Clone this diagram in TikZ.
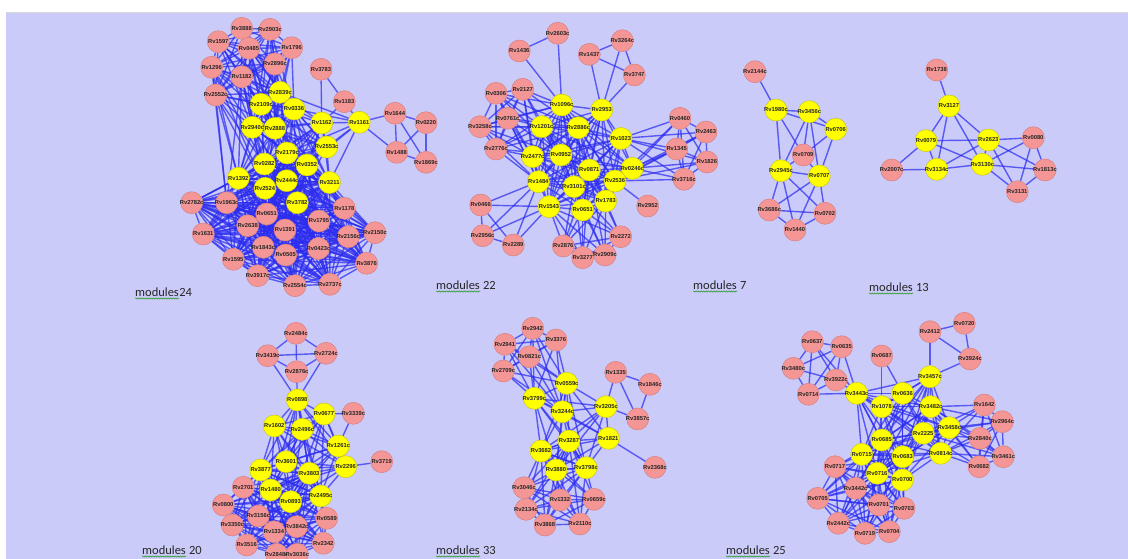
\documentclass[tikz,border=0pt]{standalone}
\usepackage{fontspec}
\setmainfont{Carlito}
\newfontfamily\nodefont{Liberation Sans}
\usetikzlibrary{decorations.pathmorphing}
\definecolor{sheetcol}{RGB}{203,203,250}
\definecolor{linkblue}{RGB}{45,45,240}
\definecolor{pinkfill}{RGB}{244,150,150}
\definecolor{pinkline}{RGB}{215,128,128}
\definecolor{yelfill}{RGB}{255,255,0}
\definecolor{yelline}{RGB}{200,200,20}
\definecolor{squig}{RGB}{60,160,60}
\pgfdeclarelayer{sheet}
\pgfdeclarelayer{links}
\pgfsetlayers{sheet,links,main}
\tikzset{
  gene/.style={circle, minimum size=22pt, inner sep=0pt, line width=0.5pt,
    font=\nodefont\bfseries\fontsize{5.8}{6.5}\selectfont, text=black!85},
  pk/.style={gene, fill=pinkfill, draw=pinkline},
  yw/.style={gene, fill=yelfill, draw=yelline},
  edge/.style={draw=linkblue, line width=1.4pt, opacity=0.72},
  modlbl/.style={font=\fontsize{12.5}{14}\selectfont, text=black!85, inner sep=0pt, anchor=base west},
  squiggle/.style={draw=squig, line width=0.6pt, decorate,
    decoration={snake, amplitude=0.6pt, segment length=2.5pt}}
}
% gene nodes: prefix, number, position
\newcommand\pn[3]{\node[pk] (#1#2) at (#3) {\makebox[0pt]{Rv#2}};}
\newcommand\yn[3]{\node[yw] (#1#2) at (#3) {\makebox[0pt]{Rv#2}};}
% all links inside a group of genes
\newcommand\cliq[1]{\foreach \a [count=\i] in {#1}{\foreach \b [count=\j] in {#1}{\ifnum\j>\i\relax\draw[edge] (\a)--(\b);\fi}}}
% every link between two groups
\newcommand\bip[2]{\foreach \a in {#1}{\foreach \b in {#2}{\draw[edge] (\a)--(\b);}}}
% listed links
\newcommand\links[1]{\foreach \u/\v in {#1}{\draw[edge] (\u)--(\v);}}
\begin{document}
\begin{tikzpicture}[x=1pt,y=-1pt]
\useasboundingbox (0,0) rectangle (1128,559);
\begin{pgfonlayer}{sheet}
  \fill[white] (0,0) rectangle (1128,559);
  \fill[sheetcol] (6,12) rectangle (1128,559);
  \draw[black!15, line width=0.6pt] (6,12) -- (1128,12);
\end{pgfonlayer}

% ---------------- module 24 ----------------
\pn{a}{3888}{241.7,28.3} \pn{a}{2903c}{270,29.3} \pn{a}{1597}{218.3,41.7}
\pn{a}{0485}{249,48.3} \pn{a}{1796}{291.7,47.7} \pn{a}{1296}{211.7,67.3}
\pn{a}{2896c}{275,64} \pn{a}{1182}{241.7,76.7} \pn{a}{3783}{321,69.3}
\pn{a}{2552c}{215.7,95} \pn{a}{1183}{344.3,101.7} \pn{a}{1644}{395,113.3}
\pn{a}{0220}{426,122.7} \pn{a}{1488}{396.7,152.3} \pn{a}{1869c}{426,162.3}
\yn{a}{2839c}{280,92.3} \yn{a}{2109c}{261,104.3} \yn{a}{0336}{294,109}
\yn{a}{1162}{321.7,123} \yn{a}{1161}{359.3,122.3} \yn{a}{2940c}{252.3,127.3}
\yn{a}{2888}{275,128.3} \yn{a}{2179c}{287,153} \yn{a}{2553c}{326.7,147}
\yn{a}{0282}{264.3,164} \yn{a}{0352}{307,165} \yn{a}{1392}{238.3,178.3}
\yn{a}{2444c}{286.7,180.7} \yn{a}{3211}{329.5,182.5} \yn{a}{2524}{265,188.3}
\yn{a}{3782}{297.3,202.7}
\pn{a}{2782c}{191.7,202.7} \pn{a}{1963c}{226.7,202.7} \pn{a}{0651}{266.7,214}
\pn{a}{1795}{319,221} \pn{a}{2638}{247.7,225.7} \pn{a}{1391}{285,230}
\pn{a}{1631}{203.3,234} \pn{a}{1843c}{263.3,247.3} \pn{a}{0505}{285.7,255}
\pn{a}{0423c}{318.5,248.5} \pn{a}{1595}{233.3,259.3} \pn{a}{3917c}{257.7,275.7}
\pn{a}{2554c}{295,285.7} \pn{a}{2737c}{330,284.3} \pn{a}{1178}{344.3,208.3}
\pn{a}{2156c}{348.3,236.7} \pn{a}{2150c}{375,232.7} \pn{a}{3876}{366.7,263.3}

% ---------------- module 22 ----------------
\pn{b}{2603c}{557.7,33.3} \pn{b}{3264c}{622.3,40.7} \pn{b}{1436}{519.3,51}
\pn{b}{1437}{589.3,54.3} \pn{b}{3747}{634.3,75} \pn{b}{0306}{496,93.3}
\pn{b}{2127}{522.7,89.3} \pn{b}{0761c}{507.7,118.3} \pn{b}{3258c}{480,126.7}
\pn{b}{0460}{680,118.3} \pn{b}{2776c}{496,149} \pn{b}{2463}{706,132}
\pn{b}{1345}{676.7,149} \pn{b}{1826}{707,162} \pn{b}{3716c}{684,179.3}
\pn{b}{0466}{480.7,205} \pn{b}{2952}{647.7,206} \pn{b}{2956c}{482.7,235.7}
\pn{b}{2289}{513.3,245} \pn{b}{2876}{563.3,246} \pn{b}{2272}{620.7,236.7}
\pn{b}{3277}{582.7,257.7} \pn{b}{2909c}{605,255}
\yn{b}{1096c}{561.7,105} \yn{b}{2953}{601.7,110} \yn{b}{1201c}{541.7,126.7}
\yn{b}{2886c}{578.3,127.7} \yn{b}{1023}{621,138.5} \yn{b}{2477c}{532.7,156.7}
\yn{b}{0952}{561,155} \yn{b}{0871}{589.3,170} \yn{b}{0246c}{632.3,168.3}
\yn{b}{1484}{538.3,181.7} \yn{b}{3101c}{574,186.7} \yn{b}{2536}{615,181}
\yn{b}{1543}{549,206.7} \yn{b}{0651}{582.7,210} \yn{b}{1783}{605.7,201}

% ---------------- module 7 ----------------
\pn{c}{2144c}{755,71.7} \pn{c}{0709}{803.3,155} \pn{c}{3686c}{769.3,210}
\pn{c}{0702}{825,213.3} \pn{c}{1440}{795,230}
\yn{c}{1980c}{776,110} \yn{c}{3456c}{809.3,111.7} \yn{c}{0706}{835.7,129.3}
\yn{c}{2945c}{781,170.7} \yn{c}{0707}{819.3,176}

% ---------------- module 13 ----------------
\pn{d}{1738}{936.7,70} \pn{d}{0080}{1033.3,137.7} \pn{d}{2007c}{891.7,170}
\pn{d}{1813c}{1045,170} \pn{d}{3131}{1017.3,191.7}
\yn{d}{3127}{949,106} \yn{d}{0079}{926,140.7} \yn{d}{2623}{988.3,140}
\yn{d}{3134c}{936.7,169.3} \yn{d}{3130c}{982.3,164.3}

% ---------------- module 20 ----------------
\pn{e}{2484c}{296,333.3} \pn{e}{3419c}{267.7,355.7} \pn{e}{2724c}{326,353.3}
\pn{e}{2876c}{296.7,371.7} \pn{e}{3339c}{353.3,413.3} \pn{e}{3719}{381.7,461.7}
\yn{e}{0898}{297.3,400} \yn{e}{0677}{324,414} \yn{e}{1602}{274.3,426}
\yn{e}{2496c}{302.3,429.3} \yn{e}{1261c}{338.3,446} \yn{e}{3601}{286,461.7}
\yn{e}{2296}{345.7,466.7} \yn{e}{3877}{260.7,470} \yn{e}{3803}{309.3,473.3}
\yn{e}{1480}{270.7,490} \yn{e}{2495c}{320.7,496} \yn{e}{0893}{290.7,501.7}
\pn{e}{2701}{243.3,487.3} \pn{e}{0800}{223.3,505} \pn{e}{3156c}{258.3,516}
\pn{e}{0589}{326.7,518.3} \pn{e}{3350c}{232.3,525} \pn{e}{1334}{274,531.7}
\pn{e}{3842c}{296.7,526.7} \pn{e}{3516}{246.7,545} \pn{e}{2342}{323.3,543.3}
\pn{e}{2848c}{276.7,554.3} \pn{e}{3036c}{297.3,554.3}

% ---------------- module 33 ----------------
\pn{f}{2942}{532.7,328.3} \pn{f}{2941}{505,344.3} \pn{f}{3376}{556,340}
\pn{f}{0821c}{529.3,356.7} \pn{f}{2709c}{503.3,371} \pn{f}{1335}{615.7,372.3}
\pn{f}{1846c}{650,384.3} \pn{f}{3857c}{637.7,419} \pn{f}{2368c}{655,467.3}
\yn{f}{0559c}{566.7,383.3} \yn{f}{3799c}{534.3,398.3} \yn{f}{3244c}{562.3,411.7}
\yn{f}{3205c}{606,406.7} \yn{f}{1821}{608.3,438.3} \yn{f}{3287}{569,441}
\yn{f}{3682}{541,451} \yn{f}{3880}{556,470} \yn{f}{3798c}{586,467.7}
\pn{f}{3046c}{524,487.7} \pn{f}{1332}{560,500} \pn{f}{0659c}{594,499.3}
\pn{f}{2134c}{526,509.3} \pn{f}{3868}{545,525} \pn{f}{2110c}{580,524}

% ---------------- module 25 ----------------
\pn{g}{0720}{964.3,323.3} \pn{g}{2412}{930,331.7} \pn{g}{0637}{812.3,341.7}
\pn{g}{0635}{841.7,346.7} \pn{g}{0687}{881.7,356} \pn{g}{3924c}{970,359}
\pn{g}{3480c}{793.3,368.3} \pn{g}{3922c}{836,380} \pn{g}{0714}{808.3,394.3}
\pn{g}{1642}{984.3,405} \pn{g}{2964c}{1002.3,421.7} \pn{g}{2840c}{980,438.3}
\pn{g}{3461c}{1003.3,456.7} \pn{g}{0682}{979,466.7}
\yn{g}{3457c}{930,376.7} \yn{g}{3443c}{856.7,393.3} \yn{g}{0636}{902.7,393.3}
\yn{g}{1078}{881.7,406.7} \yn{g}{3482c}{930.7,406.7} \yn{g}{3458c}{949.3,427.7}
\yn{g}{2225}{923.3,433.3} \yn{g}{0685}{881.7,440} \yn{g}{0715}{861.7,454.3}
\yn{g}{0814c}{940.7,453.3} \yn{g}{0683}{902.7,456.7} \yn{g}{0716}{877.3,473.3}
\yn{g}{0700}{902.3,480}
\pn{g}{0717}{835,466.7} \pn{g}{3442c}{855.7,488.3} \pn{g}{0705}{817.7,498.3}
\pn{g}{0701}{879,505} \pn{g}{0703}{904,508.3} \pn{g}{2442c}{838.3,523.3}
\pn{g}{0719}{865,533.3} \pn{g}{0704}{889.3,531.7}

% ---------------- interactions ----------------
\begin{pgfonlayer}{links}
  % module 24
  \cliq{a3888,a2903c,a1597,a0485,a1796,a1296,a2896c,a1182,a2552c}
  \bip{a3888,a2903c,a1597,a0485,a1796,a1296,a2896c,a1182,a2552c}{a2839c,a2109c,a0336,a2940c,a2888}
  \bip{a1296,a2552c,a1182}{a1392,a0282,a2524,a1963c}
  \cliq{a2839c,a2109c,a0336,a1162,a2940c,a2888,a2179c,a2553c,a0282,a0352,a1392,a2444c,a3211,a2524,a3782}
  \cliq{a2179c,a0282,a0352,a1392,a2444c,a3211,a2524,a3782,a2782c,a1963c,a0651,a1795,a2638,a1391,a1631,a1843c,a0505,a0423c,a1595,a3917c,a2554c,a2737c,a1178,a2156c,a2150c,a3876}
  \bip{a1161}{a1162,a1183,a1644,a1488,a2553c,a3211,a0336,a0352,a2179c,a2839c}
  \links{a3783/a1183,a3783/a1162,a1183/a1162}
  \cliq{a1644,a0220,a1488,a1869c}
  % module 22
  \cliq{b1096c,b2953,b1201c,b2886c,b1023,b2477c,b0952,b0871,b0246c,b1484,b3101c,b2536,b1543,b0651,b1783}
  \cliq{b0306,b2127,b0761c,b3258c,b2776c}
  \bip{b0306,b2127,b0761c,b3258c,b2776c}{b1096c,b1201c,b2886c,b2477c,b0952,b1484}
  \cliq{b0460,b2463,b1345,b1826,b3716c}
  \bip{b0460,b2463,b1345,b1826,b3716c}{b1023,b0246c,b2536}
  \cliq{b2603c,b1436,b1096c}
  \cliq{b1437,b3264c,b3747}
  \bip{b1437,b3264c,b3747}{b2953}
  \cliq{b0466,b2956c,b2289}
  \bip{b0466,b2956c,b2289}{b1484,b1543}
  \cliq{b2876,b3277,b2909c,b2272}
  \bip{b2876,b3277,b2909c,b2272}{b3101c,b0651,b1783,b1543,b0871}
  \links{b2952/b2536}
  % module 7
  \links{c2144c/c1980c,c1980c/c3456c,c1980c/c0706,c1980c/c0709,c1980c/c2945c,
    c3456c/c0706,c3456c/c0709,c3456c/c2945c,c3456c/c0707,c0706/c0709,c0706/c0707,
    c0709/c0707,c0709/c2945c,c2945c/c0707,c2945c/c3686c,c2945c/c0702,c2945c/c1440,
    c0707/c3686c,c0707/c1440,c0707/c0702,c3686c/c0702,c3686c/c1440,c1440/c0702}
  % module 13
  \links{d1738/d3127,d3127/d0079,d3127/d3134c,d3127/d2623,d3127/d3130c,d0079/d2623,
    d0079/d2007c,d0079/d3134c,d0079/d3130c,d2007c/d3134c,d3134c/d2623,d3134c/d3130c,
    d2623/d0080,d2623/d3130c,d2623/d1813c,d2623/d3131,d3130c/d0080,d3130c/d3131,
    d3130c/d1813c,d0080/d1813c,d0080/d3131,d1813c/d3131}
  % module 20
  \cliq{e2484c,e3419c,e2724c,e2876c}
  \bip{e3419c,e2724c,e2876c}{e0898}
  \links{e0677/e3339c,e3339c/e1261c,e2296/e3719}
  \cliq{e0898,e0677,e1602,e2496c,e1261c,e3601,e2296,e3877,e3803,e1480,e2495c,e0893}
  \cliq{e2701,e0800,e3156c,e0589,e3350c,e1334,e3842c,e3516,e2342,e2848c,e3036c,e3877,e1480,e0893,e3803,e2495c}
  % module 33
  \cliq{f2942,f2941,f3376,f0821c,f2709c}
  \bip{f2942,f2941,f3376,f0821c,f2709c}{f0559c,f3799c,f3244c}
  \cliq{f1335,f1846c,f3857c}
  \bip{f1335,f3857c}{f3205c}
  \links{f1821/f2368c}
  \cliq{f0559c,f3799c,f3244c,f3205c,f1821,f3287,f3682,f3880,f3798c}
  \cliq{f3046c,f1332,f0659c,f2134c,f3868,f2110c,f3682,f3880,f3798c,f3287}
  % module 25
  \cliq{g0637,g0635,g3480c,g3922c,g0714}
  \bip{g0637,g0635,g3922c,g0714}{g3443c}
  \bip{g0687}{g1078,g0636}
  \cliq{g2412,g0720,g3924c}
  \bip{g2412,g3924c}{g3457c}
  \cliq{g3457c,g3443c,g0636,g1078,g3482c,g3458c,g2225,g0685,g0715,g0814c,g0683,g0716,g0700}
  \cliq{g1642,g2964c,g2840c,g3461c,g0682}
  \bip{g1642,g2964c,g2840c,g3461c,g0682}{g3482c,g3458c,g0814c,g2225}
  \cliq{g0717,g3442c,g0705,g0701,g0703,g2442c,g0719,g0704}
  \bip{g0717,g3442c,g0705,g0701,g0703,g2442c,g0719,g0704}{g0715,g0716,g0700,g0683,g0685}
\end{pgfonlayer}

% ---------------- module captions ----------------
\node[modlbl] (w24) at (135,296) {modules};
\node[modlbl] (n24) at (w24.base east) {24};
\node[modlbl] (w22) at (436,289) {modules};
\node[modlbl, xshift=2.8pt] (n22) at (w22.base east) {22};
\node[modlbl] (w7) at (693,289) {modules};
\node[modlbl, xshift=2.8pt] (n7) at (w7.base east) {7};
\node[modlbl] (w13) at (869,291) {modules};
\node[modlbl, xshift=2.8pt] (n13) at (w13.base east) {13};
\node[modlbl] (w20) at (142,554) {modules};
\node[modlbl, xshift=2.8pt] (n20) at (w20.base east) {20};
\node[modlbl] (w33) at (436,554) {modules};
\node[modlbl, xshift=2.8pt] (n33) at (w33.base east) {33};
\node[modlbl] (w25) at (726,554) {modules};
\node[modlbl, xshift=2.8pt] (n25) at (w25.base east) {25};
\foreach \w in {w24,w22,w7,w13,w20,w33,w25}
  \draw[squiggle] ([yshift=-2.5pt]\w.base west) -- ([yshift=-2.5pt]\w.base east);
\end{tikzpicture}
\end{document}
